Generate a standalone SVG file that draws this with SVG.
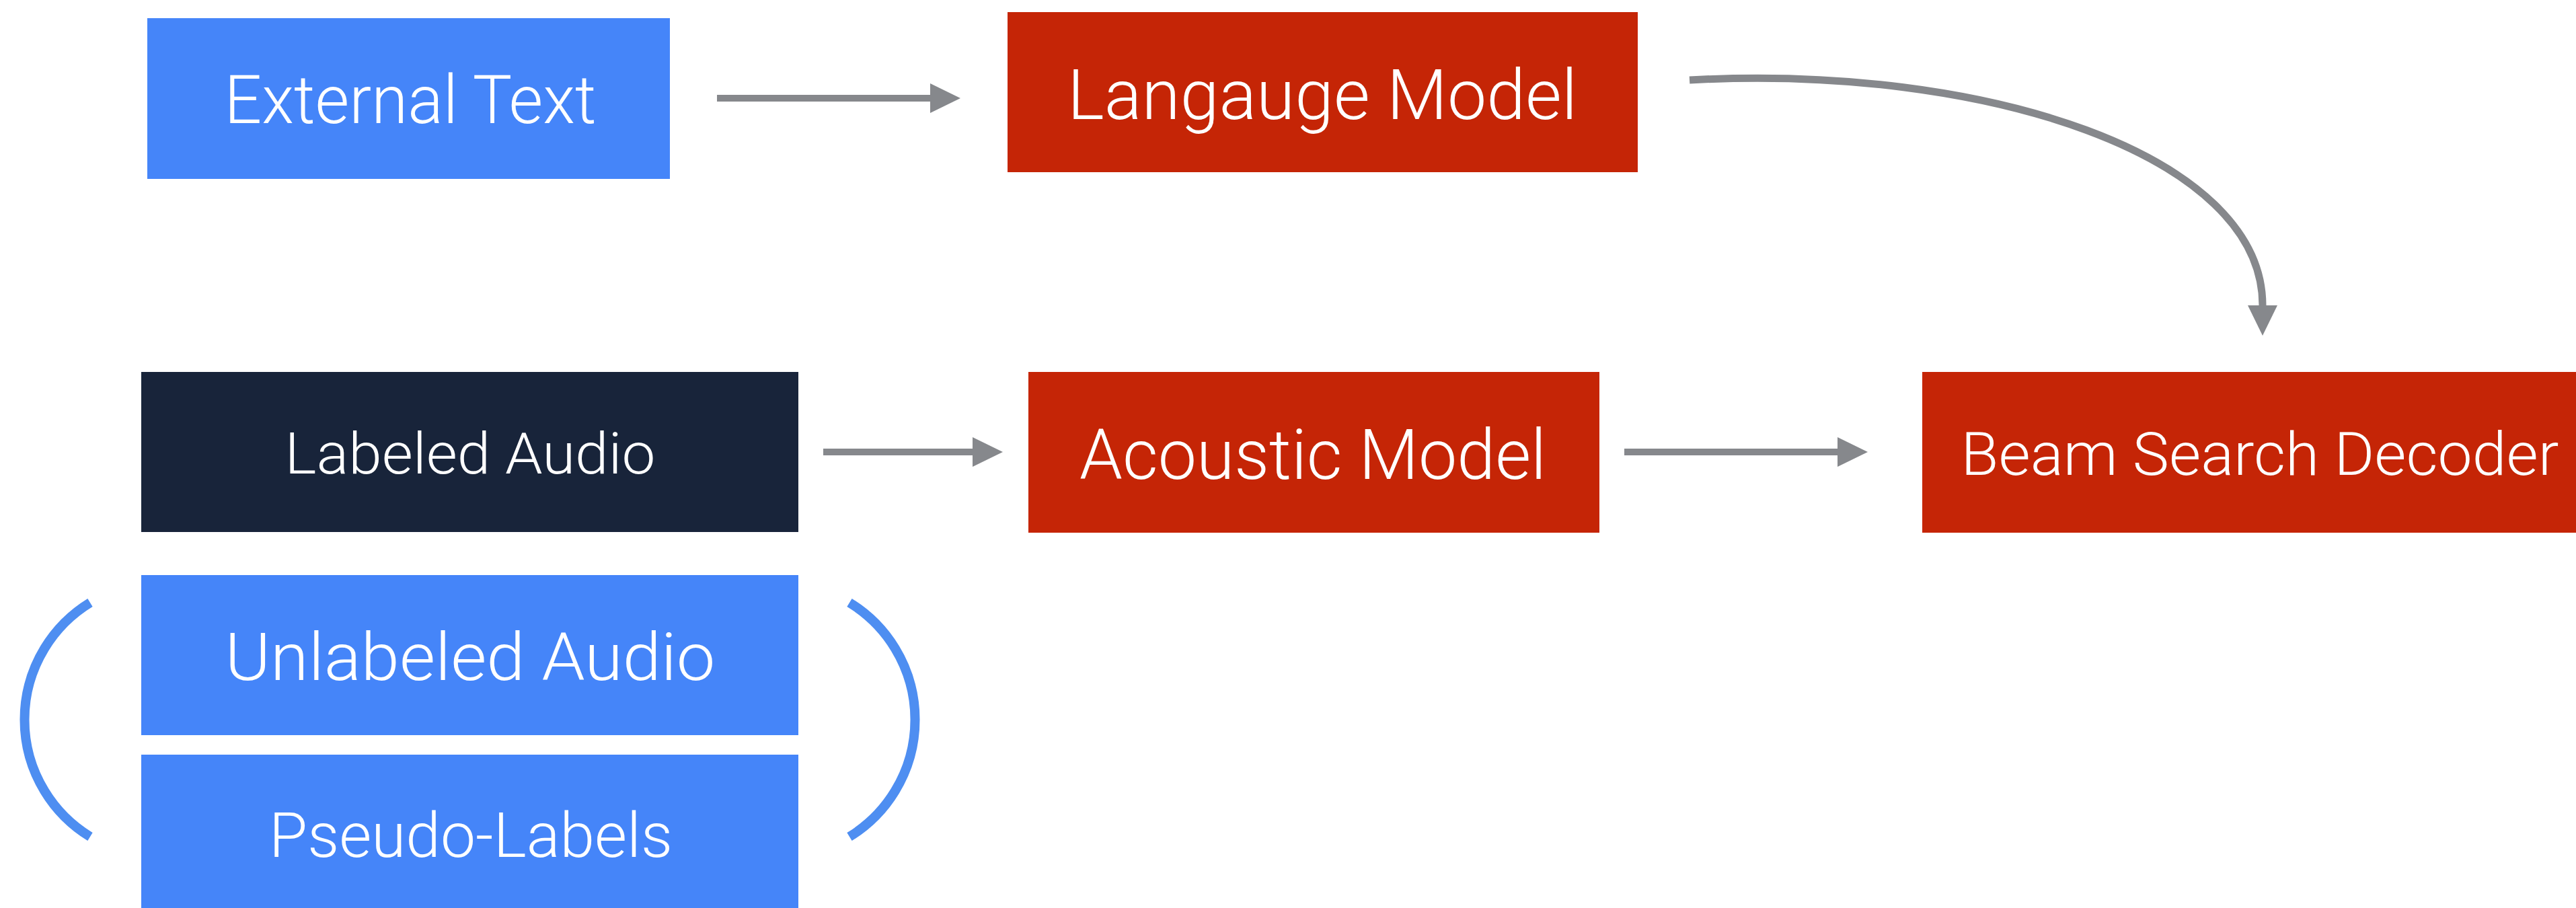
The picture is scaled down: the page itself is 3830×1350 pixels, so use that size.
<svg xmlns="http://www.w3.org/2000/svg" width="3830" height="1350" viewBox="0 0 3830 1350">
  <style>
    .blue { fill: #4585F9; }
    .red { fill: #C52506; }
    .navy { fill: #18243A; }
    .label { fill: #FFFFFF; font-family: "Helvetica Neue", Roboto, "Open Sans", "Liberation Sans", sans-serif; font-weight: 300; text-anchor: middle; }
    .flow { fill: none; stroke: #86888C; stroke-width: 10; }
    .bracket { fill: none; stroke: #4E8EF1; stroke-width: 14; }
  </style>
  <defs>
    <marker id="head" markerUnits="userSpaceOnUse" viewBox="0 0 45 44" refX="0" refY="22" markerWidth="45" markerHeight="44" orient="auto">
      <path d="M0,0 L45,22 L0,44 Z" fill="#86888C"/>
    </marker>
  </defs>

  <rect width="3830" height="1350" fill="#FFFFFF"/>

  <!-- connectors -->
  <g id="connectors">
    <line class="flow" x1="1066" y1="146" x2="1383" y2="146" marker-end="url(#head)"/>
    <line class="flow" x1="1224" y1="672" x2="1446" y2="672" marker-end="url(#head)"/>
    <line class="flow" x1="2415" y1="672" x2="2732" y2="672" marker-end="url(#head)"/>
    <path class="flow" style="stroke-width:11" d="M2512,119 C2950,95 3364,230 3364,454" marker-end="url(#head)"/>
  </g>

  <!-- nodes -->
  <g id="external-text">
    <rect class="blue" x="219" y="27" width="777" height="239"/>
    <text class="label" x="610" y="183" font-size="100" textLength="553" lengthAdjust="spacingAndGlyphs">External Text</text>
  </g>

  <g id="language-model">
    <rect class="red" x="1498" y="18" width="937" height="238"/>
    <text class="label" x="1966" y="177" font-size="103" textLength="758" lengthAdjust="spacingAndGlyphs">Langauge Model</text>
  </g>

  <g id="labeled-audio">
    <rect class="navy" x="210" y="553" width="977" height="238"/>
    <text class="label" x="699" y="704" font-size="86" textLength="551" lengthAdjust="spacingAndGlyphs">Labeled Audio</text>
  </g>

  <g id="acoustic-model">
    <rect class="red" x="1529" y="553" width="849" height="239"/>
    <text class="label" x="1952" y="712" font-size="104" textLength="694" lengthAdjust="spacingAndGlyphs">Acoustic Model</text>
  </g>

  <g id="beam-search-decoder">
    <rect class="red" x="2858" y="553" width="972" height="239"/>
    <text class="label" x="3360" y="706" font-size="89" textLength="889" lengthAdjust="spacingAndGlyphs">Beam Search Decoder</text>
  </g>

  <g id="unlabeled-audio">
    <rect class="blue" x="210" y="855" width="977" height="238"/>
    <text class="label" x="699" y="1011" font-size="99" textLength="729" lengthAdjust="spacingAndGlyphs">Unlabeled Audio</text>
  </g>

  <g id="pseudo-labels">
    <rect class="blue" x="210" y="1122" width="977" height="228"/>
    <text class="label" x="700" y="1274" font-size="92" textLength="600" lengthAdjust="spacingAndGlyphs">Pseudo-Labels</text>
  </g>

  <!-- brackets grouping the unlabeled audio and its pseudo-labels -->
  <g id="brackets">
    <path class="bracket" d="M134,896 A204,204 0 0 0 134,1244"/>
    <path class="bracket" d="M1263,896 A204,204 0 0 1 1263,1244"/>
  </g>
</svg>
